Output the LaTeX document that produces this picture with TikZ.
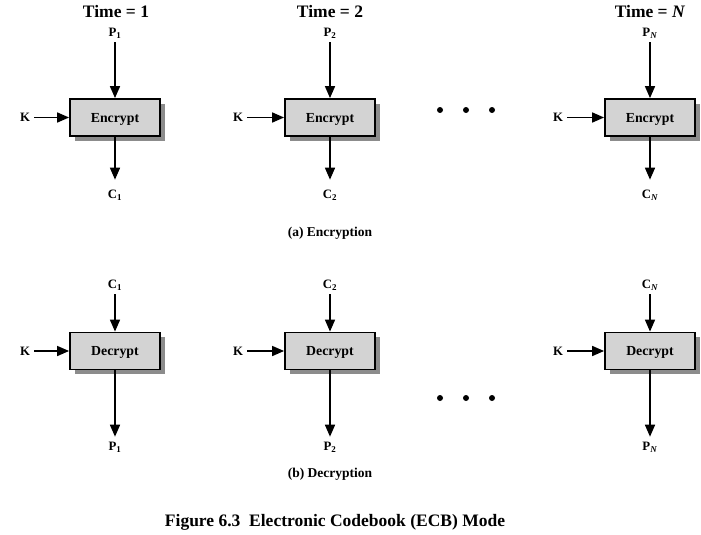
\documentclass[tikz,border=0pt]{standalone}
\usepackage{fontspec}
\setmainfont{Liberation Serif}
\usetikzlibrary{arrows.meta,shadows}

\definecolor{boxgray}{RGB}{211,211,211}
\definecolor{shadowgray}{RGB}{140,140,140}

\tikzset{
  cipherbox/.style={draw, line width=1.8pt, fill=boxgray, minimum width=90pt,
    minimum height=37pt, inner sep=0pt, text depth=0pt,
    font=\fontsize{13.8}{16}\selectfont\bfseries,
    drop shadow={shadow xshift=5pt, shadow yshift=-4.5pt, fill=shadowgray, opacity=1}},
  lbl/.style={font=\fontsize{12.8}{15}\selectfont\bfseries, inner sep=1pt},
  timelbl/.style={font=\fontsize{17.5}{20}\selectfont\bfseries, inner sep=0pt},
  capt/.style={font=\fontsize{13.5}{16}\selectfont\bfseries, inner sep=0pt},
  flow/.style={-{Triangle[length=12pt,width=10pt]}, line width=1.6pt},
  dotmark/.style={circle, fill, inner sep=0pt, minimum size=6pt}
}

\begin{document}
\begin{tikzpicture}[x=1pt,y=-1pt]
        \useasboundingbox (0,0) rectangle (701,535);
        % Time labels
        \node[timelbl] (t1) at (116,12) {Time = 1};
        \node[timelbl] (t2) at (330,12) {Time = 2};
        \node[timelbl] (tn) at (650,12) {Time = \textit{N}};
        % (a) Encryption
        \node[cipherbox] (enc1) at (115,117.5) {Encrypt};
        \node[cipherbox] (enc2) at (330,117.5) {Encrypt};
        \node[cipherbox] (encn) at (650,117.5) {Encrypt};
        \node[lbl] (pin1) at (115,33) {P\textsubscript{1}};
        \node[lbl] (pin2) at (330,33) {P\textsubscript{2}};
        \node[lbl] (pinn) at (650,33) {P\textsubscript{\textit{N}}};
        \node[lbl] (cout1) at (115,195) {C\textsubscript{1}};
        \node[lbl] (cout2) at (330,195) {C\textsubscript{2}};
        \node[lbl] (coutn) at (650,195) {C\textsubscript{\textit{N}}};
        \node[lbl] (ka1) at (25,117.5) {K};
        \node[lbl] (ka2) at (238,117.5) {K};
        \node[lbl] (kan) at (558,117.5) {K};
        \draw[flow, shorten <=3pt] (pin1) -- (enc1);
        \draw[flow, shorten <=3pt] (pin2) -- (enc2);
        \draw[flow, shorten <=3pt] (pinn) -- (encn);
        \draw[flow, shorten >=9pt] (enc1) -- (cout1);
        \draw[flow, shorten >=9pt] (enc2) -- (cout2);
        \draw[flow, shorten >=9pt] (encn) -- (coutn);
        \draw[flow, shorten <=3pt] (ka1) -- (enc1);
        \draw[flow, shorten <=3pt] (ka2) -- (enc2);
        \draw[flow, shorten <=3pt] (kan) -- (encn);
        \node[dotmark] (da1) at (440,110) {};
        \node[dotmark] (da2) at (466,110) {};
        \node[dotmark] (da3) at (492,110) {};
        \node[capt] (capa) at (330,233) {(a) Encryption};
        % (b) Decryption
        \node[cipherbox] (dec1) at (115,351) {Decrypt};
        \node[cipherbox] (dec2) at (330,351) {Decrypt};
        \node[cipherbox] (decn) at (650,351) {Decrypt};
        \node[lbl] (cin1) at (115,285) {C\textsubscript{1}};
        \node[lbl] (cin2) at (330,285) {C\textsubscript{2}};
        \node[lbl] (cinn) at (650,285) {C\textsubscript{\textit{N}}};
        \node[lbl] (pout1) at (115,447) {P\textsubscript{1}};
        \node[lbl] (pout2) at (330,447) {P\textsubscript{2}};
        \node[lbl] (poutn) at (650,447) {P\textsubscript{\textit{N}}};
        \node[lbl] (kb1) at (25,351) {K};
        \node[lbl] (kb2) at (238,351) {K};
        \node[lbl] (kbn) at (558,351) {K};
        \draw[flow, shorten <=3pt] (cin1) -- (dec1);
        \draw[flow, shorten <=3pt] (cin2) -- (dec2);
        \draw[flow, shorten <=3pt] (cinn) -- (decn);
        \draw[flow, shorten >=4pt] (dec1) -- (pout1);
        \draw[flow, shorten >=4pt] (dec2) -- (pout2);
        \draw[flow, shorten >=4pt] (decn) -- (poutn);
        \draw[flow, shorten <=3pt] (kb1) -- (dec1);
        \draw[flow, shorten <=3pt] (kb2) -- (dec2);
        \draw[flow, shorten <=3pt] (kbn) -- (decn);
        \node[dotmark] (db1) at (440,398) {};
        \node[dotmark] (db2) at (466,398) {};
        \node[dotmark] (db3) at (492,398) {};
        \node[capt] (capb) at (330,474) {(b) Decryption};
        % Figure caption
        \node[timelbl] (figcap) at (335,522) {Figure 6.3\hspace{0.5em}Electronic Codebook (ECB) Mode};
\end{tikzpicture}
\end{document}
